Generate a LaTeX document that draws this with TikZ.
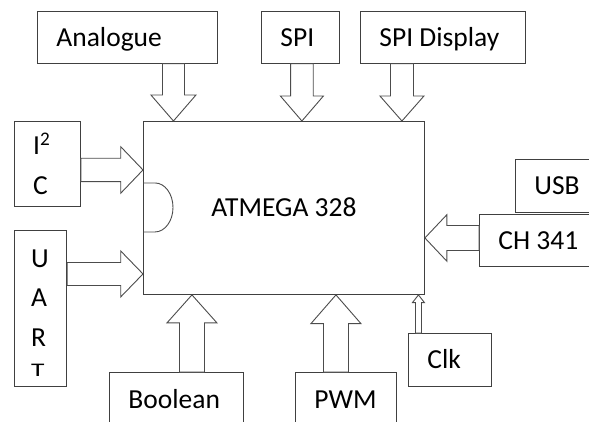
\documentclass[tikz,border=0pt]{standalone}
\usepackage{fontspec}
\setmainfont{Carlito}
\usetikzlibrary{calc, positioning}

% hollow block arrow: start, tip, half shaft, half head, head length
\newcommand{\fatarrow}[5]{%
  \coordinate (fa-h) at ($#2!#5!#1$);
  \draw[blockarrow] ($#1!#3!90:#2$) -- ($(fa-h)!#3!90:#2$) -- ($(fa-h)!#4!90:#2$) -- #2
    -- ($(fa-h)!#4!-90:#2$) -- ($(fa-h)!#3!-90:#2$) -- ($#1!#3!-90:#2$) -- cycle;
}

\begin{document}
\begin{tikzpicture}[
    x=1pt, y=-1pt,
    font=\fontsize{27.5}{39.5}\selectfont,
    box/.style={draw=black!75, line width=0.9pt, anchor=north west, align=flush left,
      inner xsep=19pt, inner ysep=0pt, text height=18pt, text depth=0pt},
    blockarrow/.style={draw=black!70, line width=0.9pt, fill=white}
]
    \useasboundingbox (0,0) rectangle (589,421);
    \clip (0,0) rectangle (589,421);

    % chip
    \node[box, minimum width=281pt, minimum height=173pt, align=center, inner xsep=0pt] (main) at (143,121) {ATMEGA 328};
    \draw[draw=black!70, line width=0.9pt] ([yshift=25pt]main.west) -- ++(12,0)
        arc[start angle=90, end angle=-90, x radius=18pt, y radius=24.5pt] -- ([yshift=-24pt]main.west);

    % peripherals
    \node[box, text width=142pt, minimum height=52pt] (analogue) at (37,10.7) {Analogue};
    \node[box, text width=40.3pt, minimum height=52pt] (spi) at (261,10.7) {SPI};
    \node[box, text width=127pt, minimum height=52pt] (spidisp) at (360,10.7) {SPI Display};
    \node[box, text width=28.3pt, minimum height=85pt, text height={}, text depth={}] (i2c) at (13.7,121) {I\textsuperscript{2}\\C};
    \node[box, inner xsep=17pt, text width=18.6pt, minimum height=156pt, text height=18pt, text depth=100pt] (uart) at (13.7,230) {U\\A\\R\\\raisebox{9pt}{\scalebox{1}[0.7]{T}}};
    \node[box, text width=100pt, minimum height=53pt] (usb) at (515,159) {USB};
    \node[box, text width=100pt, minimum height=52pt] (ch341) at (479,214) {CH 341};
    \node[box, text width=45pt, minimum height=53pt] (clk) at (408,333) {Clk};
    \node[box, text width=96pt, minimum height=54pt] (boolean) at (109,372) {Boolean};
    \node[box, text width=63pt, minimum height=54pt] (pwm) at (295,372) {PWM};

    % block arrows into the chip
    \coordinate (an-out) at ([xshift=46pt]analogue.south);
    \coordinate (spi-out) at ([xshift=1.3pt]spi.south);
    \coordinate (disp-out) at ([xshift=-41pt]spidisp.south);
    \coordinate (i2c-out) at ([yshift=-6pt]i2c.east);
    \coordinate (uart-out) at ([yshift=34.5pt]uart.east);
    \coordinate (ch-out) at ([yshift=2.5pt]ch341.west);
    \coordinate (bool-out) at ([xshift=15.5pt]boolean.north);
    \coordinate (pwm-out) at ([xshift=-10pt]pwm.north);
    \coordinate (clk-out) at ([xshift=-31.5pt]clk.north);

    \fatarrow{(an-out)}{(an-out |- main.north)}{11pt}{22.5pt}{26pt}
    \fatarrow{(spi-out)}{(spi-out |- main.north)}{11.3pt}{21.5pt}{25pt}
    \fatarrow{(disp-out)}{(disp-out |- main.north)}{11.5pt}{22pt}{25pt}
    \fatarrow{(i2c-out)}{(i2c-out -| main.west)}{11.7pt}{23.3pt}{22.3pt}
    \fatarrow{(uart-out)}{(uart-out -| main.west)}{11.5pt}{23pt}{22.3pt}
    \fatarrow{(ch-out)}{(ch-out -| main.east)}{12.5pt}{23.3pt}{22pt}
    \fatarrow{(bool-out)}{(bool-out |- main.south)}{12.5pt}{25pt}{28pt}
    \fatarrow{(pwm-out)}{(pwm-out |- main.south)}{12.5pt}{25pt}{28.7pt}
    \fatarrow{(clk-out)}{(clk-out |- main.south)}{3pt}{6pt}{7.7pt}
\end{tikzpicture}
\end{document}
